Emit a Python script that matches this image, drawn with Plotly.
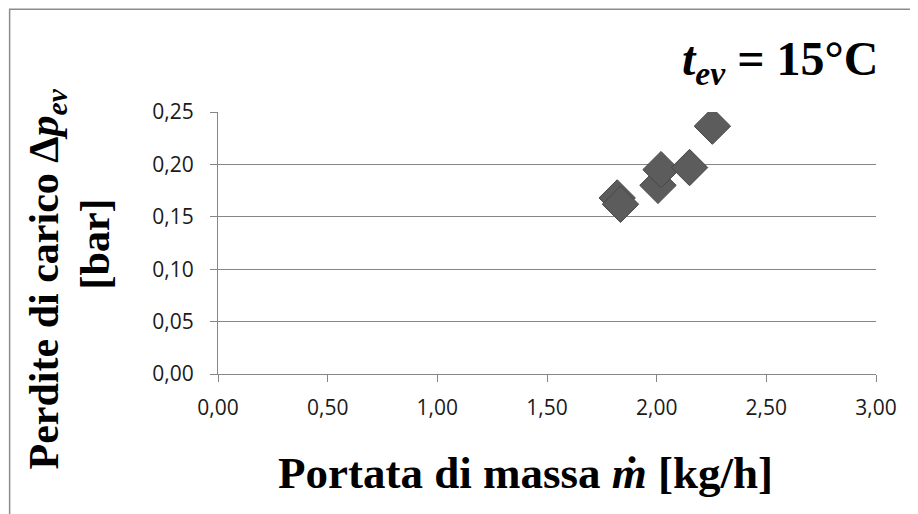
import plotly.graph_objects as go

# Data
portata = [1.820, 1.835, 2.006, 2.020, 2.150, 2.254]      # kg/h
perdite = [0.168, 0.162, 0.180, 0.195, 0.197, 0.2365]     # bar

x_ticks = [0, 0.5, 1.0, 1.5, 2.0, 2.5, 3.0]
x_tick_labels = ["0,00", "0,50", "1,00", "1,50", "2,00", "2,50", "3,00"]
y_ticks = [0, 0.05, 0.10, 0.15, 0.20, 0.25]
y_tick_labels = ["0,00", "0,05", "0,10", "0,15", "0,20", "0,25"]

# page body has an 8px margin: figure drawn from (8, 8) of the window
OFF = 8
W, H = 910, 506
# plot area in window pixels
PX0, PX1, PY0, PY1 = 217.5, 876.5, 112, 374.5
L, R, T, B = PX0 - OFF, W - (PX1 - OFF), PY0 - OFF, H - (PY1 - OFF)
pw, ph = W - L - R, H - T - B

def px_x(p):
    return (p - OFF - L) / pw

def px_y(p):
    return (H - B - (p - OFF)) / ph

serif = "Liberation Serif, Times New Roman, serif"
tickfont = dict(family="Open Sans, Calibri, sans-serif", size=21, color="#1a1a1a")

fig = go.Figure()
fig.add_trace(go.Scatter(
    x=portata, y=perdite, mode="markers",
    marker=dict(symbol="diamond", size=28, color="#5c5c5c",
                line=dict(color="#474747", width=1)),
    showlegend=False,
))

fig.update_xaxes(
    range=[0, 3], tickvals=x_ticks, ticktext=x_tick_labels,
    showgrid=False, zeroline=False, showline=True, linecolor="#868686", linewidth=1,
    ticks="outside", ticklen=7, tickcolor="#868686", tickfont=tickfont,
    ticklabelstandoff=8,
)
fig.update_yaxes(
    range=[0, 0.25], tickvals=y_ticks, ticktext=y_tick_labels,
    showgrid=True, gridcolor="#868686", gridwidth=1, zeroline=False,
    showline=True, linecolor="#868686", linewidth=1,
    ticks="outside", ticklen=7, tickcolor="#868686", tickfont=tickfont,
    ticklabelstandoff=12,
)

annotations = [
    dict(text="<b><i>t</i><sub><i>ev</i></sub> = 15°C</b>", xref="paper", yref="paper",
         x=px_x(881), y=px_y(62), xanchor="right", yanchor="middle", showarrow=False,
         font=dict(family=serif, size=48, color="#000")),
    dict(text="<b>Portata di massa <i>ṁ</i> [kg/h]</b>", xref="paper", yref="paper",
         x=px_x(525), y=px_y(474), xanchor="center", yanchor="middle", showarrow=False,
         font=dict(family=serif, size=45, color="#000")),
    dict(text="<b>Perdite di carico Δ<i>p</i><sub><i>ev</i></sub></b>", xref="paper", yref="paper",
         x=px_x(46), y=px_y(279), xanchor="center", yanchor="middle", showarrow=False,
         textangle=-90, font=dict(family=serif, size=42, color="#000")),
    dict(text="<b>[bar]</b>", xref="paper", yref="paper",
         x=px_x(94), y=px_y(244), xanchor="center", yanchor="middle", showarrow=False,
         textangle=-90, font=dict(family=serif, size=42, color="#000")),
]

fig.update_layout(
    width=W, height=H,
    margin=dict(l=L, r=R, t=T, b=B, autoexpand=False),
    paper_bgcolor="white", plot_bgcolor="white",
    annotations=annotations,
    shapes=[dict(type="rect", xref="paper", yref="paper",
                 x0=px_x(8.8), x1=px_x(940), y0=px_y(540), y1=px_y(9),
                 line=dict(color="#8c8c8c", width=1.5), layer="below")],
)

fig.write_html("out.html")
